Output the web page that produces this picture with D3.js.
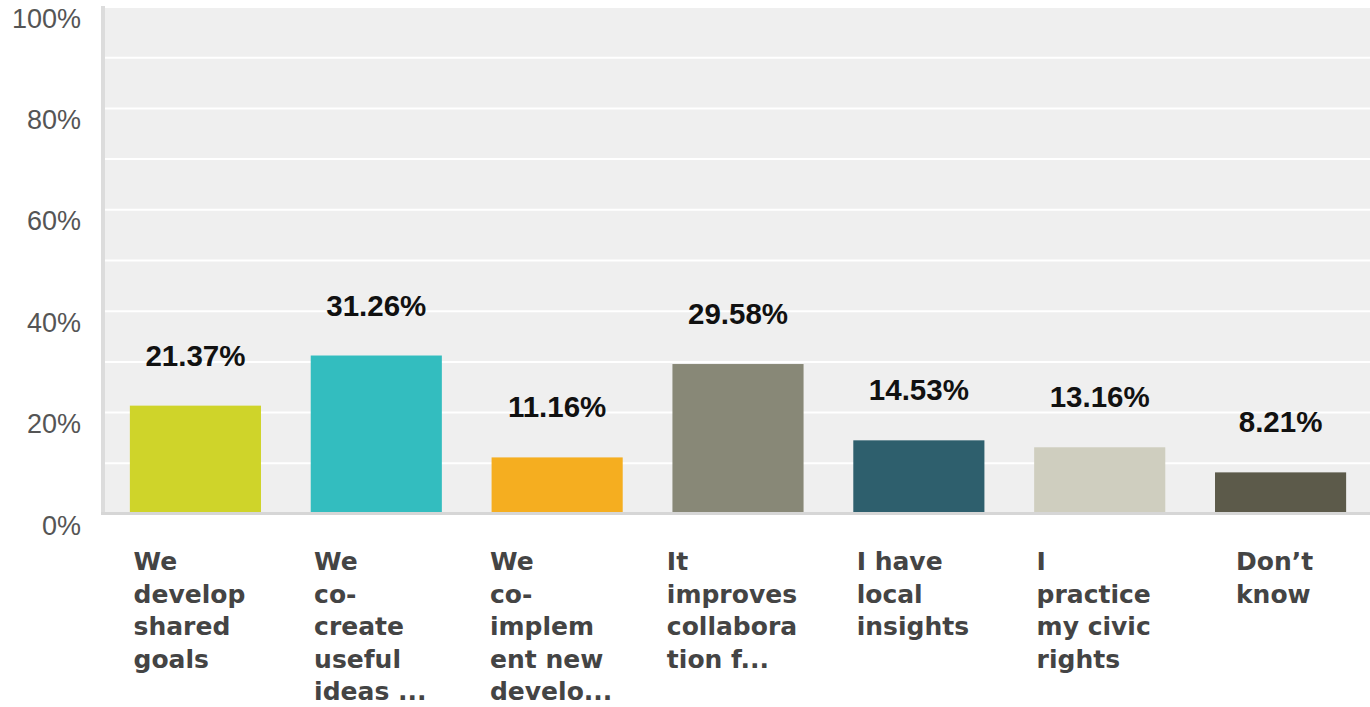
<!DOCTYPE html>
<html>
<head>
<meta charset="utf-8">
<script src="https://cdn.jsdelivr.net/npm/d3@7"></script>
<style>
  html, body { margin: 0; padding: 0; background: #ffffff; }
  svg { display: block; }
</style>
</head>
<body>
<svg id="chart" width="1370" height="707"></svg>
<script>
// ---- data ----
const categories = [
  "We develop shared goals",
  "We co-create useful ideas ...",
  "We co-implement new develo...",
  "It improves collaboration f...",
  "I have local insights",
  "I practice my civic rights",
  "Don’t know"
];
const labelLines = [
  ["We", "develop", "shared", "goals"],
  ["We", "co-", "create", "useful", "ideas ..."],
  ["We", "co-", "implem", "ent new", "develo..."],
  ["It", "improves", "collabora", "tion f..."],
  ["I have", "local", "insights"],
  ["I", "practice", "my civic", "rights"],
  ["Don’t", "know"]
];
const values = [21.37, 31.26, 11.16, 29.58, 14.53, 13.16, 8.21];
const barColors = ["#cfd42a", "#33bdbf", "#f5ae20", "#888877", "#2e5f6d", "#cfcebf", "#5c5a4a"];
const yTicks = [0, 20, 40, 60, 80, 100];
const gridTicks = [10, 20, 30, 40, 50, 60, 70, 80, 90, 100];

// ---- layout ----
const svg = d3.select("#chart");
const FONT = "'Liberation Sans', Arial, Helvetica, sans-serif";
const LABEL_FONT = "'DejaVu Sans', Verdana, sans-serif";
const plotLeft = 105, plotRight = 1371, plotTop = 7, plotBottom = 514;

const x = d3.scaleBand()
  .domain(categories)
  .range([plotLeft, plotRight])
  .paddingInner(0.275)
  .paddingOuter(0.1375);

const y = d3.scaleLinear().domain([0, 100]).range([plotBottom, plotTop]);

// plot background
svg.append("rect")
  .attr("x", plotLeft - 2).attr("y", y(100) - 1)
  .attr("width", 1370 - plotLeft + 2).attr("height", plotBottom - y(100) + 1)
  .attr("fill", "#efefef");

// gridlines
svg.append("g")
  .selectAll("line")
  .data(gridTicks)
  .join("line")
  .attr("x1", plotLeft).attr("x2", 1370)
  .attr("y1", d => y(d)).attr("y2", d => y(d))
  .attr("stroke", "#ffffff").attr("stroke-width", 2);

// left axis line
svg.append("rect")
  .attr("x", plotLeft - 4).attr("y", y(100) - 1)
  .attr("width", 4).attr("height", plotBottom - y(100) + 2)
  .attr("fill", "#dcdcdc");

// bars
svg.append("g")
  .selectAll("rect")
  .data(values)
  .join("rect")
  .attr("x", (d, i) => x(categories[i]))
  .attr("width", x.bandwidth())
  .attr("y", d => y(d))
  .attr("height", d => y(0) - y(d))
  .attr("fill", (d, i) => barColors[i]);

// bottom axis line
svg.append("rect")
  .attr("x", plotLeft - 4).attr("y", plotBottom - 2)
  .attr("width", 1370 - plotLeft + 4).attr("height", 3)
  .attr("fill", "#d6d6d6");

// y tick labels
svg.append("g")
  .selectAll("text")
  .data(yTicks)
  .join("text")
  .attr("x", 81)
  .attr("y", d => y(d) + 20.5)
  .attr("text-anchor", "end")
  .attr("font-family", FONT)
  .attr("font-size", 27)
  .attr("fill", "#555555")
  .text(d => d + "%");

// value labels
svg.append("g")
  .selectAll("text")
  .data(values)
  .join("text")
  .attr("x", (d, i) => x(categories[i]) + x.bandwidth() / 2)
  .attr("y", d => y(d) - 40)
  .attr("text-anchor", "middle")
  .attr("font-family", FONT)
  .attr("font-size", 29.5)
  .attr("font-weight", "bold")
  .attr("fill", "#111111")
  .text(d => d.toFixed(2) + "%");

// category labels
const catG = svg.append("g");
categories.forEach((c, i) => {
  const t = catG.append("text")
    .attr("font-family", LABEL_FONT)
    .attr("font-size", 25)
    .attr("font-weight", "bold")
    .attr("fill", "#444444");
  labelLines[i].forEach((ln, j) => {
    t.append("tspan")
      .attr("x", 0)
      .attr("y", 570 + j * 32.5)
      .text(ln);
  });
  let maxW = 0;
  t.selectAll("tspan").each(function () {
    maxW = Math.max(maxW, this.getComputedTextLength());
  });
  const left = x(c) + x.bandwidth() / 2 - maxW / 2 - 6;
  t.selectAll("tspan").attr("x", left);
});
</script>
</body>
</html>
